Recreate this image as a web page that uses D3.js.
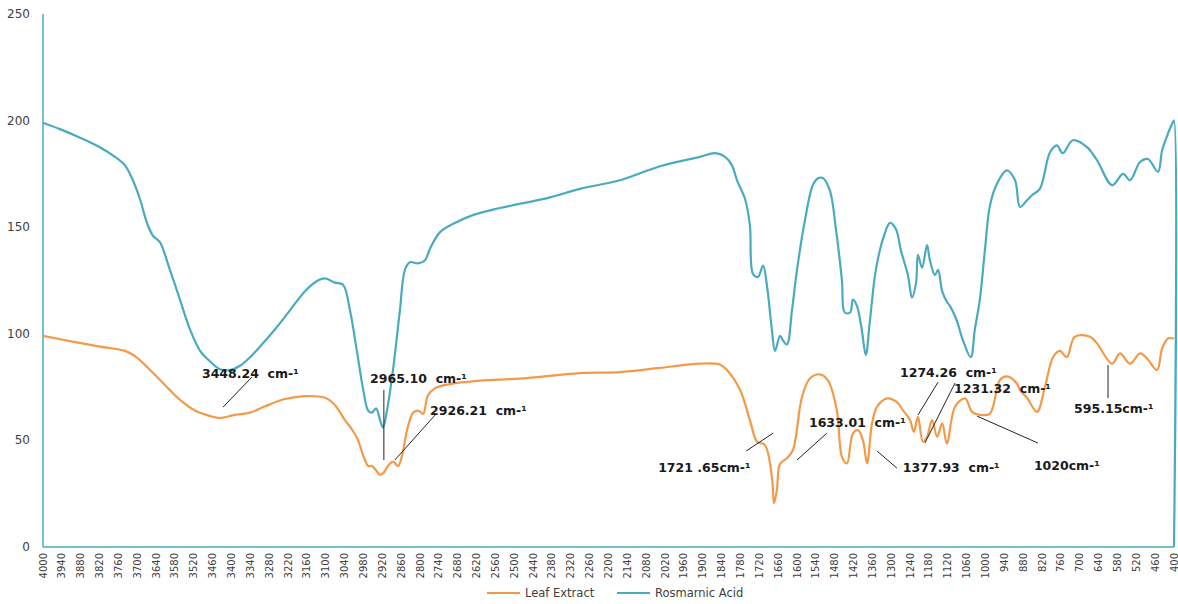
<!DOCTYPE html>
<html>
<head>
<meta charset="utf-8">
<script src="https://cdn.jsdelivr.net/npm/d3@7"></script>
<style>
  body { margin: 0; background: #fff; }
  text { font-family: "DejaVu Sans", sans-serif; }
</style>
</head>
<body>
<div id="chart"></div>
<script>
const ancho = 1178
const alto = 604
const margen = { izquierdo: 43, derecho: 4, superior: 14, inferior: 57 }

// wavenumbers (cm-1) and transmittance values
const leafWn = [4000, 3914, 3819, 3739, 3707, 3659, 3612, 3564, 3516, 3468, 3437, 3389, 3341, 3293, 3230, 3166, 3102, 3071, 3039, 3016, 2997, 2981, 2965, 2953, 2940, 2927, 2915, 2902, 2886, 2870, 2857, 2841, 2822, 2806, 2790, 2775, 2752, 2705, 2609, 2482, 2291, 2163, 2036, 1909, 1845, 1823, 1781, 1750, 1727, 1702, 1680, 1673, 1664, 1654, 1632, 1613, 1584, 1559, 1527, 1501, 1473, 1457, 1441, 1422, 1406, 1390, 1377, 1361, 1345, 1313, 1282, 1263, 1240, 1228, 1215, 1199, 1186, 1170, 1154, 1138, 1123, 1097, 1065, 1043, 1018, 986, 954, 932, 900, 890, 868, 836, 811, 785, 763, 741, 716, 667, 645, 597, 572, 540, 508, 486, 454, 438, 419, 400]
const leafVal = [99, 96.6, 94, 92, 89.5, 83, 76, 69, 64, 61.4, 60.5, 62, 63, 66, 69.4, 70.8, 70, 66.6, 59.5, 55, 50, 43, 38, 38, 36, 33.8, 35, 38, 40, 38, 43, 55, 63, 64, 62.5, 71, 74.5, 76.4, 78, 79, 81.6, 82, 84, 86, 85.6, 83, 73.6, 59.5, 49.4, 47.8, 33, 20.6, 26.7, 39, 41.6, 45.5, 70.4, 79, 81, 78, 64, 42.3, 39.2, 53.3, 54.8, 50, 39.2, 58, 65.8, 69.7, 68, 64.2, 59.5, 54, 61, 49.4, 51.7, 59.5, 51.7, 58, 48.6, 65.8, 69.7, 63.4, 62, 62.6, 78.3, 80, 76.7, 73.6, 70, 63.4, 75, 89, 92, 89, 98.6, 98.6, 95.5, 86, 90.8, 86, 90.8, 88.4, 83, 93, 97.8, 97.8]

const rosWn = [4000, 3946, 3882, 3819, 3771, 3739, 3714, 3691, 3669, 3650, 3628, 3596, 3564, 3532, 3500, 3468, 3437, 3405, 3373, 3341, 3309, 3262, 3214, 3166, 3125, 3102, 3071, 3045, 3023, 3001, 2981, 2965, 2953, 2940, 2927, 2918, 2905, 2886, 2864, 2848, 2832, 2806, 2784, 2768, 2736, 2689, 2625, 2545, 2386, 2291, 2163, 2036, 1909, 1861, 1829, 1807, 1791, 1765, 1750, 1740, 1724, 1708, 1696, 1680, 1670, 1654, 1645, 1632, 1616, 1600, 1575, 1549, 1533, 1517, 1495, 1476, 1457, 1448, 1431, 1422, 1409, 1394, 1381, 1368, 1349, 1323, 1304, 1285, 1269, 1247, 1234, 1221, 1215, 1202, 1186, 1177, 1161, 1151, 1138, 1123, 1113, 1091, 1072, 1047, 1034, 1018, 1002, 986, 963, 932, 906, 890, 868, 852, 827, 795, 773, 754, 722, 677, 645, 597, 562, 540, 508, 483, 451, 438, 419, 403, 400, 400]
const rosVal = [199, 196, 192, 187.5, 183, 179, 172, 163, 152, 146, 143, 130, 116, 102, 92, 87, 83.4, 83, 85, 89, 94, 102, 111, 120, 125, 126, 124, 123, 111, 92, 74, 64, 63, 65, 59.5, 56, 64, 83, 111, 130, 133.6, 133, 134.5, 140, 147.7, 152, 156, 159, 164, 168, 172, 178.6, 183, 184.7, 183, 179, 172, 163, 151, 128, 126.7, 132, 123, 102, 92, 99, 97, 95, 111, 130, 153, 170, 173, 173, 167, 149, 125, 110, 110, 116, 113, 102, 90, 106, 130, 146, 152, 149, 139, 127.5, 117, 124, 137, 131, 141.6, 134.5, 127.5, 130, 120, 115, 113, 106, 97, 89, 102, 116, 139, 160, 170.6, 176.7, 172, 159.5, 162.6, 165, 168, 185, 188.4, 184.7, 190.8, 187.6, 181.4, 169.7, 175, 172, 180.6, 182, 176, 186, 194, 199.4, 200, 0]

const seriesNames = ["Leaf Extract", "Rosmarnic Acid"]
const seriesColors = ["#f39a48", "#4aaac0"]

const xTicks = d3.range(4000, 399, -60)
const yTicks = [0, 50, 100, 150, 200, 250]

// peak labels: text, anchor of label, leader line ends (wavenumber, value)
const peakText = ["3448.24  cm-¹", "2965.10  cm-¹", "2926.21  cm-¹", "1721 .65cm-¹", "1633.01  cm-¹", "1377.93  cm-¹", "1274.26  cm-¹", "1231.32  cm-¹", "1020cm-¹", "595.15cm-¹"]
const peakTextPos = [[3494, 79.2], [2959, 76.9], [2768, 61.9], [2042, 35.2], [1562, 56.2], [1263, 35.2], [1272, 79.7], [1100, 72.2], [846, 36.1], [718, 62.8]]
const peakLine = [
  [[3427, 65.6], [3335, 79.7]],
  [[2915, 73.6], [2915, 40.8]],
  [[2880, 40.8], [2752, 61.9]],
  [[1762, 45], [1676, 53.4]],
  [[1600, 40.8], [1505, 53.4]],
  [[1345, 45], [1282, 37]],
  [[1215, 61.9], [1151, 77.3]],
  [[1193, 48.75], [1097, 76.9]],
  [[1027, 61.4], [833, 48.75]],
  [[610, 85.3], [610, 69.8]]
]

const svg = d3.select("#chart").append("svg").attr("width", ancho).attr("height", alto)

const x = d3.scaleLinear().domain([4000, 400]).range([margen.izquierdo, ancho - margen.derecho])
const y = d3.scaleLinear().domain([0, 250]).range([alto - margen.inferior, margen.superior])

// y axis labels
svg.append("g").selectAll("text").data(yTicks).enter().append("text")
  .attr("x", 30).attr("y", d => y(d) + 4)
  .attr("text-anchor", "end")
  .attr("font-size", 12).attr("fill", "#404040")
  .text(d => d)

// x axis labels, rotated
svg.append("g").selectAll("text").data(xTicks).enter().append("text")
  .attr("transform", d => `translate(${x(d) + 3.5}, ${y(0) + 6}) rotate(-90)`)
  .attr("text-anchor", "end")
  .attr("font-size", 10).attr("fill", "#404040")
  .text(d => d)

// axis lines
svg.append("line").attr("x1", x(4000)).attr("x2", x(4000)).attr("y1", y(0)).attr("y2", y(250))
  .attr("stroke", "#4aaac0").attr("stroke-width", 1.5)
svg.append("line").attr("x1", x(4000)).attr("x2", x(400)).attr("y1", y(0)).attr("y2", y(0))
  .attr("stroke", "#4aaac0").attr("stroke-width", 1.5)

const linea = d3.line().x(d => x(d[0])).y(d => y(d[1])).curve(d3.curveCatmullRom.alpha(0.5))

const leafData = leafWn.map((w, i) => [w, leafVal[i]])
const rosData = rosWn.map((w, i) => [w, rosVal[i]])

svg.append("path").datum(rosData).attr("d", linea)
  .attr("fill", "none").attr("stroke", seriesColors[1]).attr("stroke-width", 2.2).attr("stroke-linejoin", "round")
svg.append("path").datum(leafData).attr("d", linea)
  .attr("fill", "none").attr("stroke", seriesColors[0]).attr("stroke-width", 2.2).attr("stroke-linejoin", "round")

// peak annotations
svg.append("g").selectAll("line").data(peakLine).enter().append("line")
  .attr("x1", d => x(d[0][0])).attr("y1", d => y(d[0][1]))
  .attr("x2", d => x(d[1][0])).attr("y2", d => y(d[1][1]))
  .attr("stroke", "#222").attr("stroke-width", 1)

svg.append("g").selectAll("text").data(peakText).enter().append("text")
  .attr("x", (d, i) => x(peakTextPos[i][0])).attr("y", (d, i) => y(peakTextPos[i][1]))
  .attr("font-size", 12.5).attr("font-weight", "bold").attr("fill", "#1a1a1a")
  .attr("xml:space", "preserve").style("white-space", "pre")
  .text(d => d)

// legend
const leyenda = svg.append("g").attr("transform", "translate(487, 593)")
const posLeyenda = [0, 130]
seriesNames.forEach((nombre, i) => {
  const g = leyenda.append("g").attr("transform", `translate(${posLeyenda[i]}, 0)`)
  g.append("line").attr("x1", 0).attr("x2", 33).attr("y1", 0).attr("y2", 0)
    .attr("stroke", seriesColors[i]).attr("stroke-width", 2.2)
  g.append("text").attr("x", 38).attr("y", 4).attr("font-size", 11.5).attr("fill", "#404040").text(nombre)
})
</script>
</body>
</html>
